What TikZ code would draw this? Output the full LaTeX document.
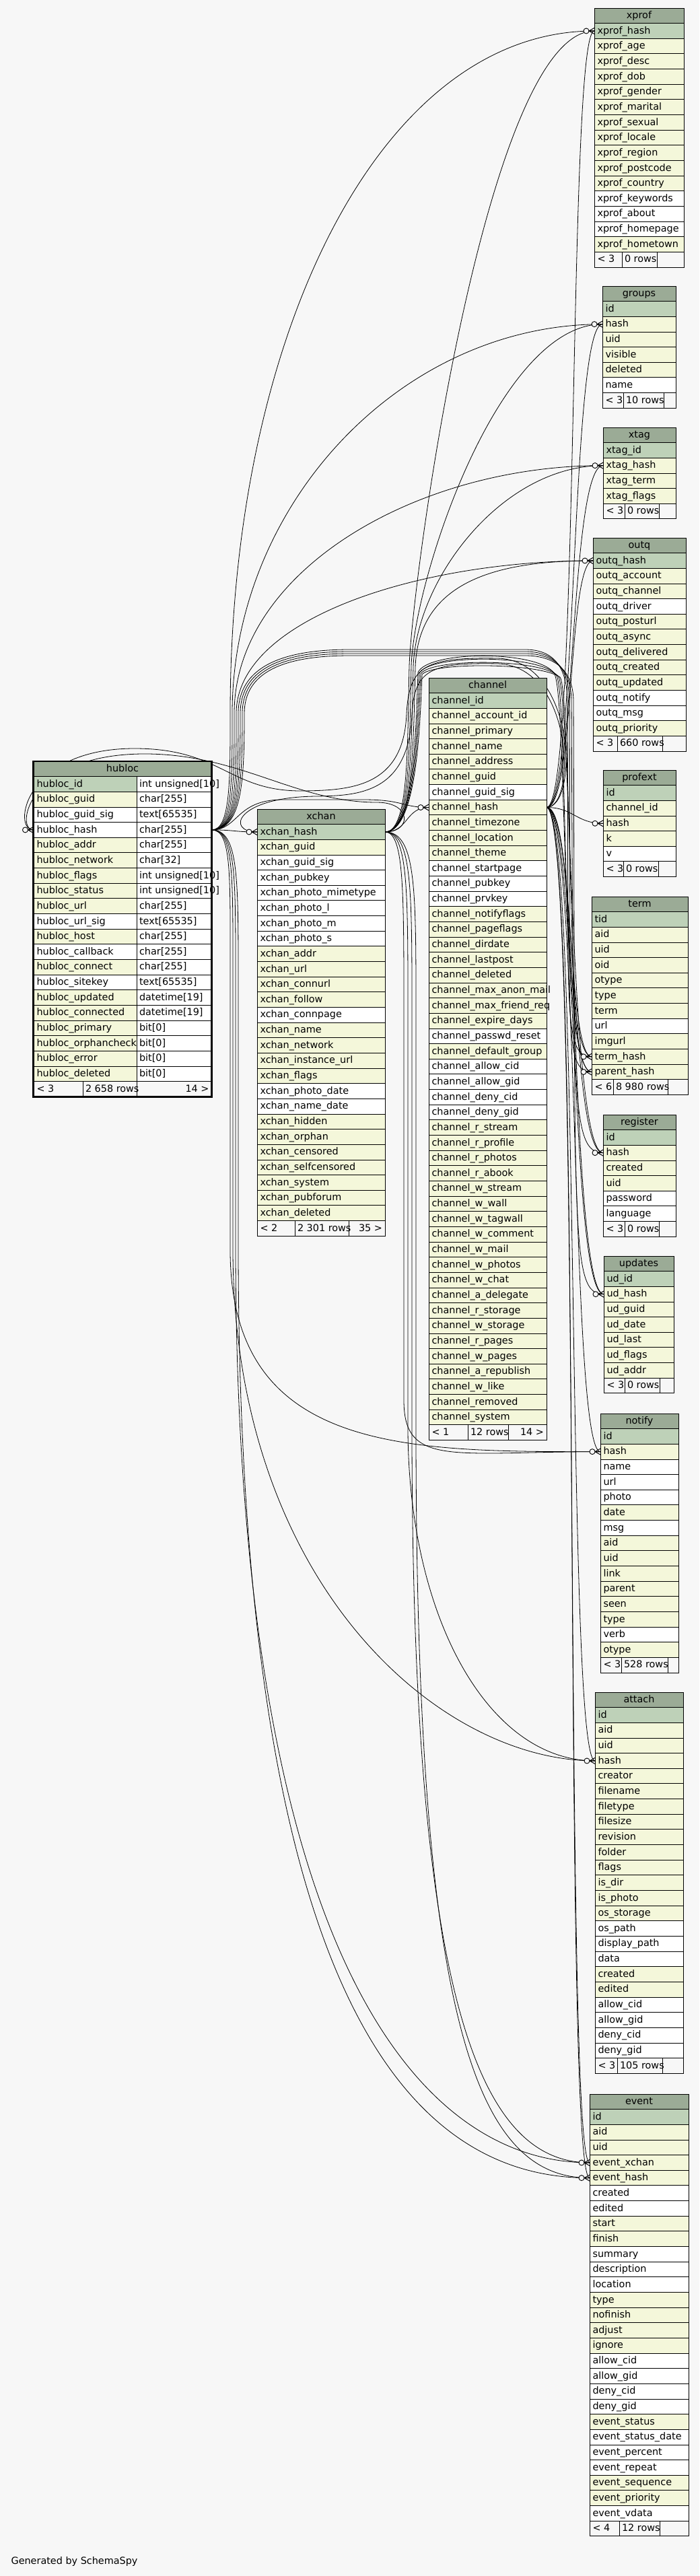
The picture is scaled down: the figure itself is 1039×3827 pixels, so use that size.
\documentclass[tikz,border=0pt]{standalone}
\usepackage{fontspec}
\setmainfont{DejaVu Sans}
\usetikzlibrary{calc}
\definecolor{bg}{HTML}{F7F7F7}
\definecolor{hdr}{HTML}{9BAB96}
\definecolor{cp}{HTML}{BED1B8}
\definecolor{cy}{HTML}{F4F7DA}
\definecolor{cw}{HTML}{FFFFFF}
\newcommand\tabfont{\fontsize{14.4pt}{17pt}\selectfont}
\def\rowh{22.65}
\tikzset{
  dbcell/.style={rectangle,draw=black,line width=0.9pt,minimum height=22.65pt,inner sep=0pt,outer sep=0pt},
  dbtxt/.style={inner sep=0pt,outer sep=0pt,font=\tabfont},
  dbrule/.style={draw=black,line width=0.9pt},
  fkline/.style={draw=black,line width=0.8pt},
  crow/.pic={
    \draw[line width=1pt] (-8,0) -- (0,-4.5) (-8,0) -- (0,0) (-8,0) -- (0,4.5);
    \draw[line width=0.9pt,fill=bg] (-12,0) circle (4);
  }
}
\newcommand\dbt[6]{%
  \node[dbcell,fill=hdr,minimum width=#4pt,anchor=north west] (#1-h) at (#2,#3) {};
  \node[dbtxt,anchor=base] (#1-ht) at ([yshift=-4.2pt]#1-h.center) {#5};
  \foreach \txt/\knd [count=\i] in {#6}{%
    \node[dbcell,fill=c\knd,minimum width=#4pt,anchor=north west] (#1-r\i) at (#2,{#3+\i*\rowh}) {};
    \node[dbtxt,anchor=base west] (#1-t\i) at ([xshift=4.5pt,yshift=-4.2pt]#1-r\i.west) {\txt};
    \xdef\nrows{\i}%
  }%
  \xdef\curx{#2}\xdef\cury{#3}\xdef\curw{#4}%
}
\newcommand\dbf[6]{%
  \pgfmathsetmacro\dbfy{\cury+(\nrows+1)*\rowh}%
  \pgfmathsetmacro\dbfb{\dbfy+\rowh/2+4.2}%
  \node[dbcell,fill=bg,minimum width=\curw pt,anchor=north west] (#1-f) at (\curx,\dbfy) {};
  \draw[dbrule] (#2,\dbfy) -- (#2,\dbfy+\rowh);
  \draw[dbrule] (#3,\dbfy) -- (#3,\dbfy+\rowh);
  \node[dbtxt,anchor=base west] (#1-fa) at (\curx+4.5,\dbfb) {#4};
  \node[dbtxt,anchor=base west] (#1-fb) at (#2+4,\dbfb) {#5};
  \node[dbtxt,anchor=base east] (#1-fc) at (\curx+\curw-4,\dbfb) {#6};
}
\pgfdeclarelayer{edgel}
\pgfsetlayers{edgel,main}
\begin{document}
\catcode`\_=12
\begin{tikzpicture}[x=1pt,y=-1pt]
\useasboundingbox (0,0) rectangle (1039,3827);
\begin{pgfonlayer}{edgel}
\fill[bg] (0,0) rectangle (1039,3827);
\end{pgfonlayer}

% ---------- right column tables ----------
\dbt{xpr}{883}{12}{133}{xprof}{xprof_hash/p,xprof_age/y,xprof_desc/y,xprof_dob/y,xprof_gender/y,xprof_marital/y,xprof_sexual/y,xprof_locale/y,xprof_region/y,xprof_postcode/y,xprof_country/y,xprof_keywords/w,xprof_about/w,xprof_homepage/w,xprof_hometown/y}
\dbf{xpr}{924}{976}{< 3}{0 rows}{}

\dbt{grp}{895}{425}{109}{groups}{id/p,hash/y,uid/y,visible/y,deleted/y,name/w}
\dbf{grp}{926}{986}{< 3}{10 rows}{}

\dbt{xtg}{896}{635}{108}{xtag}{xtag_id/p,xtag_hash/y,xtag_term/y,xtag_flags/y}
\dbf{xtg}{928}{979}{< 3}{0 rows}{}

\dbt{otq}{881}{799}{138}{outq}{outq_hash/p,outq_account/y,outq_channel/y,outq_driver/w,outq_posturl/y,outq_async/y,outq_delivered/y,outq_created/y,outq_updated/y,outq_notify/w,outq_msg/w,outq_priority/y}
\dbf{otq}{917}{984}{< 3}{660 rows}{}

\dbt{pfx}{896}{1144}{108}{profext}{id/p,channel_id/y,hash/y,k/y,v/w}
\dbf{pfx}{926}{978}{< 3}{0 rows}{}

\dbt{trm}{879}{1332}{143}{term}{tid/p,aid/y,uid/y,oid/y,otype/y,type/y,term/y,url/w,imgurl/y,term_hash/y,parent_hash/y}
\dbf{trm}{911}{992}{< 6}{8 980 rows}{}

\dbt{reg}{896}{1656}{108}{register}{id/p,hash/y,created/y,uid/y,password/w,language/w}
\dbf{reg}{928}{979}{< 3}{0 rows}{}

\dbt{upd}{897}{1866}{104}{updates}{ud_id/p,ud_hash/y,ud_guid/y,ud_date/y,ud_last/y,ud_flags/y,ud_addr/y}
\dbf{upd}{928}{980}{< 3}{0 rows}{}

\dbt{ntf}{892}{2100}{116}{notify}{id/p,hash/y,name/w,url/w,photo/w,date/y,msg/w,aid/y,uid/y,link/y,parent/y,seen/y,type/y,verb/w,otype/y}
\dbf{ntf}{923}{992}{< 3}{528 rows}{}

\dbt{att}{884}{2514}{131}{attach}{id/p,aid/y,uid/y,hash/y,creator/y,filename/y,filetype/y,filesize/y,revision/y,folder/y,flags/y,is_dir/y,is_photo/y,os_storage/y,os_path/w,display_path/w,data/w,created/y,edited/y,allow_cid/w,allow_gid/w,deny_cid/w,deny_gid/w}
\dbf{att}{917}{984}{< 3}{105 rows}{}

\dbt{evt}{876}{3111}{147}{event}{id/p,aid/y,uid/y,event_xchan/y,event_hash/y,created/w,edited/w,start/y,finish/y,summary/w,description/w,location/w,type/y,nofinish/y,adjust/y,ignore/y,allow_cid/w,allow_gid/w,deny_cid/w,deny_gid/w,event_status/y,event_status_date/w,event_percent/w,event_repeat/w,event_sequence/y,event_priority/y,event_vdata/w}
\dbf{evt}{920}{980}{< 4}{12 rows}{}

% ---------- channel ----------
\dbt{chn}{637}{1007}{175}{channel}{channel_id/p,channel_account_id/y,channel_primary/y,channel_name/y,channel_address/y,channel_guid/y,channel_guid_sig/w,channel_hash/y,channel_timezone/y,channel_location/y,channel_theme/y,channel_startpage/w,channel_pubkey/w,channel_prvkey/w,channel_notifyflags/y,channel_pageflags/y,channel_dirdate/y,channel_lastpost/y,channel_deleted/y,channel_max_anon_mail/y,channel_max_friend_req/y,channel_expire_days/y,channel_passwd_reset/w,channel_default_group/y,channel_allow_cid/w,channel_allow_gid/w,channel_deny_cid/w,channel_deny_gid/w,channel_r_stream/y,channel_r_profile/y,channel_r_photos/y,channel_r_abook/y,channel_w_stream/y,channel_w_wall/y,channel_w_tagwall/y,channel_w_comment/y,channel_w_mail/y,channel_w_photos/y,channel_w_chat/y,channel_a_delegate/y,channel_r_storage/y,channel_w_storage/y,channel_r_pages/y,channel_w_pages/y,channel_a_republish/y,channel_w_like/y,channel_removed/y,channel_system/y}
\dbf{chn}{695}{755}{< 1}{12 rows}{14 >}

% ---------- xchan ----------
\dbt{xch}{382}{1202}{190}{xchan}{xchan_hash/p,xchan_guid/y,xchan_guid_sig/w,xchan_pubkey/w,xchan_photo_mimetype/w,xchan_photo_l/w,xchan_photo_m/w,xchan_photo_s/w,xchan_addr/y,xchan_url/y,xchan_connurl/y,xchan_follow/y,xchan_connpage/w,xchan_name/y,xchan_network/y,xchan_instance_url/y,xchan_flags/y,xchan_photo_date/w,xchan_name_date/w,xchan_hidden/y,xchan_orphan/y,xchan_censored/y,xchan_selfcensored/y,xchan_system/y,xchan_pubforum/y,xchan_deleted/y}
\dbf{xch}{438}{518}{< 2}{2 301 rows}{35 >}

% ---------- hubloc ----------
\node[dbcell,fill=hdr,minimum width=265pt,anchor=north west] (hub-h) at (49.5,1131) {};
\node[dbtxt,anchor=base] (hub-ht) at ([yshift=-4.2pt]hub-h.center) {hubloc};
\foreach \txt/\knd/\typ [count=\i] in {hubloc_id/p/{int unsigned[10]},hubloc_guid/y/{char[255]},hubloc_guid_sig/w/{text[65535]},hubloc_hash/w/{char[255]},hubloc_addr/y/{char[255]},hubloc_network/y/{char[32]},hubloc_flags/y/{int unsigned[10]},hubloc_status/y/{int unsigned[10]},hubloc_url/y/{char[255]},hubloc_url_sig/w/{text[65535]},hubloc_host/y/{char[255]},hubloc_callback/w/{char[255]},hubloc_connect/y/{char[255]},hubloc_sitekey/w/{text[65535]},hubloc_updated/y/{datetime[19]},hubloc_connected/y/{datetime[19]},hubloc_primary/y/{bit[0]},hubloc_orphancheck/y/{bit[0]},hubloc_error/y/{bit[0]},hubloc_deleted/y/{bit[0]}}{
  \node[dbcell,fill=c\knd,minimum width=153.5pt,anchor=north west] (hub-r\i) at (49.5,{1131+\i*\rowh}) {};
  \node[dbcell,fill=cw,minimum width=111.5pt,anchor=north west] (hub-y\i) at (203,{1131+\i*\rowh}) {};
  \node[dbtxt,anchor=base west] (hub-t\i) at ([xshift=5pt,yshift=-4.2pt]hub-r\i.west) {\txt};
  \node[dbtxt,anchor=base west] (hub-s\i) at ([xshift=4pt,yshift=-4.2pt]hub-y\i.west) {\typ};
}
\node[dbcell,fill=bg,minimum width=265pt,anchor=north west] (hub-f) at (49.5,{1131+21*\rowh}) {};
\draw[dbrule] (123,{1131+21*\rowh}) -- (123,{1131+22*\rowh});
\draw[dbrule] (203,{1131+21*\rowh}) -- (203,{1131+22*\rowh});
\node[dbtxt,anchor=base west] (hub-fa) at ([xshift=5pt,yshift=-4.2pt]hub-f.west) {< 3};
\node[dbtxt,anchor=base west] (hub-fb) at (127,{1131+21.5*\rowh+4.2}) {2 658 rows};
\node[dbtxt,anchor=base east] (hub-fc) at ([xshift=-4pt,yshift=-4.2pt]hub-f.east) {14 >};
\draw[line width=2.5pt] (hub-h.north west) rectangle (hub-f.south east);

\node[dbtxt,anchor=base west] (gen) at (16.6,3809) {Generated by SchemaSpy};

% ---------- connectors ----------
\begin{pgfonlayer}{edgel}
% ===== from hubloc_hash =====
\draw[fkline] (hub-y4.east) .. controls +(35,0) and +(-35,0) .. (xch-r1.west);
\draw[fkline] (hub-y4.east) .. controls +(40,0) and (350,1188) .. (420,1188) -- (540,1188) .. controls (600,1188) and +(-40,0) .. (chn-r8.west);
% up bundle
\draw[fkline] (hub-y4.east) .. controls +(28,0) and (342,1160) .. (342,1060) .. controls (342,500) and +(-320,0) .. (xpr-r1.west);
\draw[fkline] (hub-y4.east) .. controls +(31,0) and (345,1160) .. (345,1060) .. controls (345,750) and +(-300,0) .. (grp-r2.west);
\draw[fkline] (hub-y4.east) .. controls +(34,0) and (348,1160) .. (348,1060) .. controls (348,850) and +(-280,0) .. (xtg-r2.west);
\draw[fkline] (hub-y4.east) .. controls +(37,0) and (351,1160) .. (351,1060) .. controls (351,920) and +(-260,0) .. (otq-r1.west);
% up and over channel, down its right side
\draw[fkline] (hub-y4.east) .. controls +(39,0) and (354,1160) .. (354,1060) .. controls (354,990) and (420,965) .. (520,965) -- (780,965) .. controls (822,965) and (842,990) .. (843,1040) .. controls (846,1490) and +(-45,0) .. (trm-r10.west);
\draw[fkline] (hub-y4.east) .. controls +(41,0) and (357,1160) .. (357,1060) .. controls (357,993) and (420,968) .. (520,968) -- (780,968) .. controls (824,968) and (845,993) .. (846,1040) .. controls (849,1510) and +(-45,0) .. (trm-r11.west);
\draw[fkline] (hub-y4.east) .. controls +(43,0) and (360,1160) .. (360,1060) .. controls (360,996) and (420,971) .. (520,971) -- (780,971) .. controls (826,971) and (848,996) .. (849,1040) .. controls (852,1630) and +(-48,0) .. (reg-r2.west);
\draw[fkline] (hub-y4.east) .. controls +(45,0) and (363,1160) .. (363,1060) .. controls (363,999) and (420,974) .. (520,974) -- (780,974) .. controls (828,974) and (851,999) .. (852,1040) .. controls (855,1840) and +(-50,0) .. (upd-r2.west);
% down bundle
\draw[fkline] (hub-y4.east) .. controls +(30,0) and (342,1300) .. (342,1450) -- (342,1860) .. controls (344,2157) and (600,2157) .. (ntf-r2.west);
\draw[fkline] (hub-y4.east) .. controls +(33,0) and (346,1300) .. (346,1450) -- (346,1860) .. controls (348,2350) and (650,2616) .. (att-r4.west);
\draw[fkline] (hub-y4.east) .. controls +(36,0) and (350,1300) .. (350,1450) -- (350,1860) .. controls (352,2900) and (620,3213) .. (evt-r4.west);
\draw[fkline] (hub-y4.east) .. controls +(39,0) and (354,1300) .. (354,1450) -- (354,1860) .. controls (356,2950) and (600,3236) .. (evt-r5.west);
% ===== from xchan_hash =====
\draw[fkline] (xch-r1.east) .. controls +(35,0) and +(-35,0) .. (chn-r8.west);
\draw[fkline] (xch-r1.east) .. controls +(40,0) and (612,1192) .. (560,1192) .. controls (440,1192) and (360,1122) .. (220,1120) .. controls (40,1118) and (22,1233) .. (hub-r4.west);
% up
\draw[fkline] (xch-r1.east) .. controls +(36,0) and (605,1110) .. (608,990) .. controls (612,860) and +(-160,0) .. (xpr-r1.west);
\draw[fkline] (xch-r1.east) .. controls +(38,0) and (608,1110) .. (611,990) .. controls (615,860) and +(-155,0) .. (grp-r2.west);
\draw[fkline] (xch-r1.east) .. controls +(40,0) and (611,1110) .. (614,991) .. controls (618,860) and +(-150,0) .. (xtg-r2.west);
\draw[fkline] (xch-r1.east) .. controls +(42,0) and (614,1110) .. (617,992) .. controls (621,862) and +(-140,0) .. (otq-r1.west);
% over channel
\draw[fkline] (xch-r1.east) .. controls +(44,0) and (618,1080) .. (621,999) .. controls (636,966) and (800,966) .. (823,1000) .. controls (843,1023) and +(-48,0) .. (trm-r10.west);
\draw[fkline] (xch-r1.east) .. controls +(45,0) and (620,1080) .. (623,1000) .. controls (638,972) and (800,972) .. (826,1002) .. controls (846,1025) and +(-50,0) .. (trm-r11.west);
\draw[fkline] (xch-r1.east) .. controls +(46,0) and (622,1080) .. (625,1001) .. controls (640,978) and (800,978) .. (829,1004) .. controls (849,1027) and +(-50,0) .. (reg-r2.west);
\draw[fkline] (xch-r1.east) .. controls +(47,0) and (624,1080) .. (627,1002) .. controls (642,984) and (800,984) .. (832,1006) .. controls (852,1029) and +(-52,0) .. (upd-r2.west);
% down
\draw[fkline] (xch-r1.east) .. controls +(28,0) and (600,1320) .. (600,1500) -- (600,2080) .. controls (600,2180) and +(-220,0) .. (ntf-r2.west);
\draw[fkline] (xch-r1.east) .. controls +(34,0) and (606,1320) .. (606,1500) -- (606,2120) .. controls (606,2400) and +(-160,0) .. (att-r4.west);
\draw[fkline] (xch-r1.east) .. controls +(40,0) and (612,1320) .. (612,1500) -- (612,2120) .. controls (612,2950) and +(-170,0) .. (evt-r4.west);
\draw[fkline] (xch-r1.east) .. controls +(46,0) and (618,1320) .. (618,1500) -- (618,2120) .. controls (618,3000) and +(-170,0) .. (evt-r5.west);
% ===== from channel_hash =====
\draw[fkline] (chn-r8.east) .. controls +(45,0) and (852,990) .. (740,986) .. controls (640,984) and (616,995) .. (612,1060) .. controls (608,1180) and (530,1182) .. (470,1183) .. controls (350,1184) and (335,1236) .. (xch-r1.west);
\draw[fkline] (chn-r8.east) .. controls +(48,0) and (856,982) .. (740,978) .. controls (630,976) and (608,990) .. (604,1060) .. controls (600,1170) and (520,1174) .. (450,1175) .. controls (340,1176) and (330,1112) .. (200,1112) .. controls (35,1112) and (18,1233) .. (hub-r4.west);
\draw[fkline] (chn-r8.east) .. controls +(50,0) and +(-40,0) .. (xpr-r1.west);
\draw[fkline] (chn-r8.east) .. controls +(46,0) and +(-48,0) .. (grp-r2.west);
\draw[fkline] (chn-r8.east) .. controls +(44,0) and +(-50,0) .. (xtg-r2.west);
\draw[fkline] (chn-r8.east) .. controls +(42,0) and +(-38,0) .. (otq-r1.west);
\draw[fkline] (chn-r8.east) .. controls +(40,0) and +(-40,0) .. (pfx-r3.west);
\draw[fkline] (chn-r8.east) .. controls +(40,0) and +(-36,0) .. (trm-r10.west);
\draw[fkline] (chn-r8.east) .. controls +(44,0) and +(-42,0) .. (trm-r11.west);
\draw[fkline] (chn-r8.east) .. controls +(46,0) and +(-50,0) .. (reg-r2.west);
\draw[fkline] (chn-r8.east) .. controls +(48,0) and +(-52,0) .. (upd-r2.west);
\draw[fkline] (chn-r8.east) .. controls +(50,0) and +(-46,0) .. (ntf-r2.west);
\draw[fkline] (chn-r8.east) .. controls +(52,0) and +(-44,0) .. (att-r4.west);
\draw[fkline] (chn-r8.east) .. controls +(54,0) and +(-40,0) .. (evt-r4.west);
\draw[fkline] (chn-r8.east) .. controls +(56,0) and +(-42,0) .. (evt-r5.west);
\end{pgfonlayer}

% ---------- crow's foot markers ----------
\foreach \p in {xpr-r1,grp-r2,xtg-r2,otq-r1,pfx-r3,trm-r10,trm-r11,reg-r2,upd-r2,ntf-r2,att-r4,evt-r4,evt-r5,hub-r4,xch-r1,chn-r8}{
  \pic at (\p.west) {crow};
}
\end{tikzpicture}
\end{document}
